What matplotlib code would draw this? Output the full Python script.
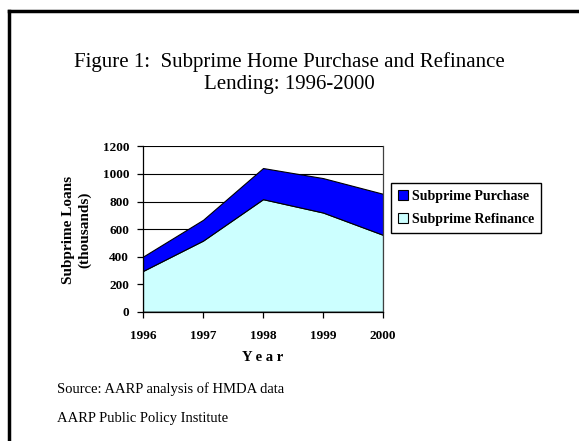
import matplotlib.pyplot as plt
from matplotlib.patches import Patch
from matplotlib.lines import Line2D

years = [1996, 1997, 1998, 1999, 2000]
refinance = [296, 516, 817, 720, 558]
purchase = [104, 151, 226, 250, 298]
series_names = ["Subprime Purchase", "Subprime Refinance"]

plt.rcParams['font.family'] = ['Liberation Serif', 'DejaVu Serif']

fig = plt.figure(figsize=(5.79, 4.41), dpi=100)

# slide frame (left and top edges)
fig.add_artist(Line2D([0.0148, 0.0148], [0, 0.976], transform=fig.transFigure,
                      color='black', lw=2.5, solid_capstyle='projecting'))
fig.add_artist(Line2D([0.0148, 1.0], [0.976, 0.976], transform=fig.transFigure,
                      color='black', lw=2.5, solid_capstyle='projecting'))

fig.text(0.5, 0.859, "Figure 1:  Subprime Home Purchase and Refinance",
         ha='center', va='center', fontsize=15)
fig.text(0.5, 0.809, "Lending: 1996-2000", ha='center', va='center', fontsize=15)

ax = fig.add_axes([0.247, 0.2932, 0.4145, 0.3748])
ax.stackplot(years, refinance, purchase, colors=['#CCFFFF', '#0000FF'],
             edgecolor='black', linewidth=0.8, zorder=2)

ax.set_xlim(1996, 2000)
ax.set_ylim(0, 1200)
ax.set_xticks(years)
ax.set_yticks(range(0, 1201, 200))
ax.grid(axis='y', color='black', linewidth=0.8, zorder=1)
ax.set_axisbelow(True)
for s in ['left', 'right', 'top', 'bottom']:
    ax.spines[s].set_linewidth(0.9)
ax.spines['top'].set_visible(False)
ax.spines['right'].set_color('#404040')
ax.tick_params(direction='out', length=4, width=0.9, labelsize=9.5)
ax.tick_params(axis='x', pad=9)
ax.tick_params(axis='y', pad=6)
for lab in ax.get_xticklabels() + ax.get_yticklabels():
    lab.set_fontweight('bold')

fig.text(0.133, 0.478, "Subprime Loans\n(thousands)", rotation=90, ha='center',
         va='center', fontsize=11, fontweight='bold', linespacing=1.25)
fig.text(0.454, 0.19, "Y e a r", ha='center', va='center', fontsize=10.5,
         fontweight='bold')

handles = [Patch(facecolor='#0000FF', edgecolor='black', lw=0.8),
           Patch(facecolor='#CCFFFF', edgecolor='black', lw=0.8)]
fig.legend(handles, series_names, loc='upper left', bbox_to_anchor=(0.675, 0.585),
           fancybox=False, edgecolor='black', framealpha=1,
           prop={'weight': 'bold', 'size': 10}, handlelength=0.75, handleheight=0.75,
           handletextpad=0.25, borderpad=0.5, labelspacing=0.7, borderaxespad=0)

fig.text(0.099, 0.118, "Source: AARP analysis of HMDA data", fontsize=10.5, va='center')
fig.text(0.099, 0.052, "AARP Public Policy Institute", fontsize=10.5, va='center')

fig.savefig("out.png", dpi=100)
